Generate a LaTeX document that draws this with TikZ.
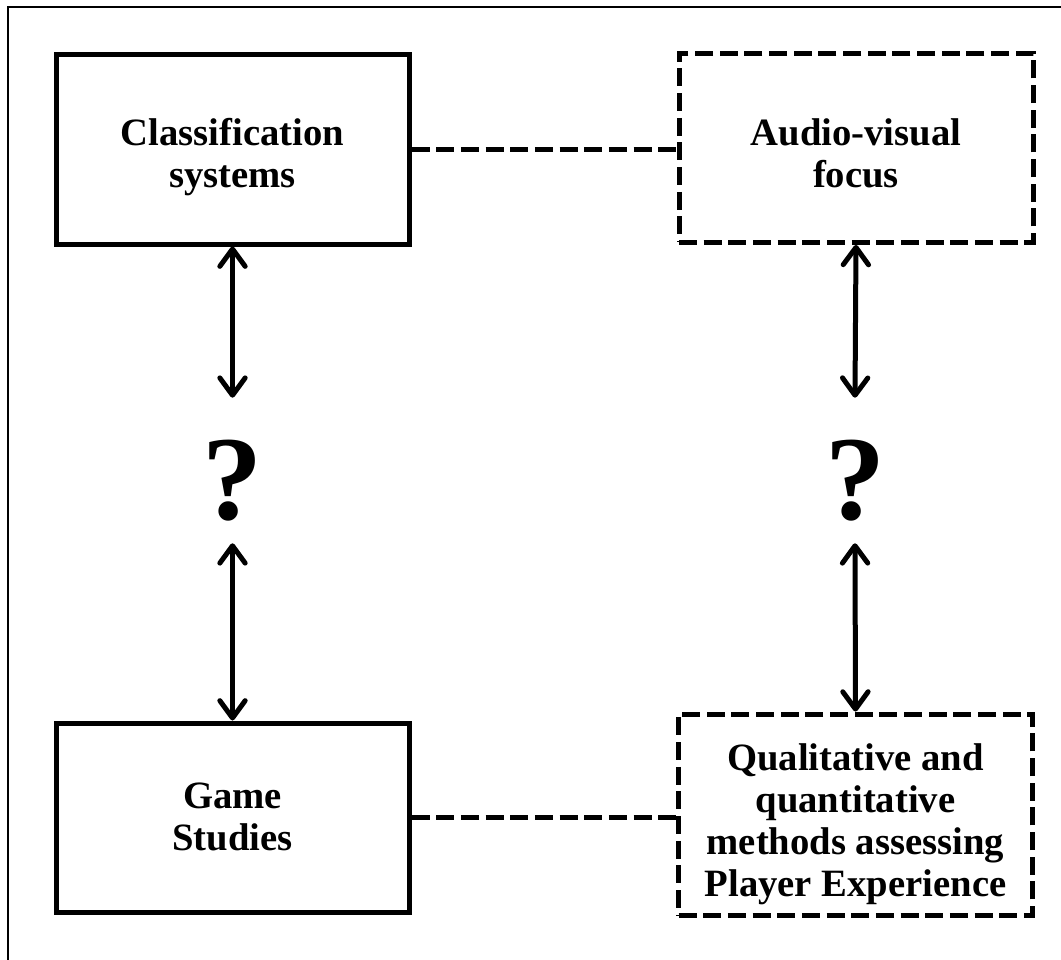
\documentclass[tikz,border=0pt]{standalone}
\usepackage{fontspec}
\setmainfont{Liberation Serif}
\usetikzlibrary{arrows.meta}

\begin{document}
\begin{tikzpicture}[x=0.75pt,y=-0.75pt,
  font=\bfseries\fontsize{29}{31.5}\selectfont,
  solidbox/.style={draw,line width=3.75pt,align=center,inner sep=0pt,
                   minimum width=264.75pt,text depth=0pt},
  dashbox/.style={draw,line width=3.75pt,align=center,inner sep=0pt,
                  minimum width=265.5pt,text depth=0pt,dash pattern=on 13.5pt off 5pt},
  qmark/.style={inner sep=0pt,minimum height=108.75pt,text height=73pt,text depth=0pt,
                font=\bfseries\fontsize{90}{90}\selectfont},
  link/.style={line width=3.75pt,dash pattern=on 13.5pt off 5pt},
  arr/.style={{Straight Barb[round,length=13pt,width=19pt]}-{Straight Barb[round,length=13pt,width=19pt]},
              line width=3.75pt}]
  \useasboundingbox (0,0) rectangle (1061,960);
  \draw[line width=1.2pt] (8,7) rectangle (1080,980);
  \node[solidbox,minimum height=142.5pt,text height=57pt]  (cs) at (232.5,149)  {Classification\\systems};
  \node[dashbox,minimum height=142pt,text height=60pt]     (av) at (856,147.75) {Audio-visual\\focus};
  \node[solidbox,minimum height=141.75pt,text height=49.5pt] (gs) at (232.5,817.5) {Game\\Studies};
  \node[dashbox,minimum height=151pt,text height=123pt]    (qq) at (855.5,814.75)
    {Qualitative and\\quantitative\\methods assessing\\Player Experience};
  \node[qmark] (q1) at (232.5,470.5) {?};
  \node[qmark] (q2) at (855,470.5) {?};
  \draw[link] (cs.east) -- (av.west |- cs.east);
  \draw[link] (gs.east) -- (qq.west |- gs.east);
  \foreach \a/\b in {cs/q1,q1/gs} \draw[arr] (\a.south) -- (\b.north);
  \foreach \a/\b in {av/q2,q2/qq} \draw[arr] (\a.south) -- (\b.north);
\end{tikzpicture}
\end{document}
